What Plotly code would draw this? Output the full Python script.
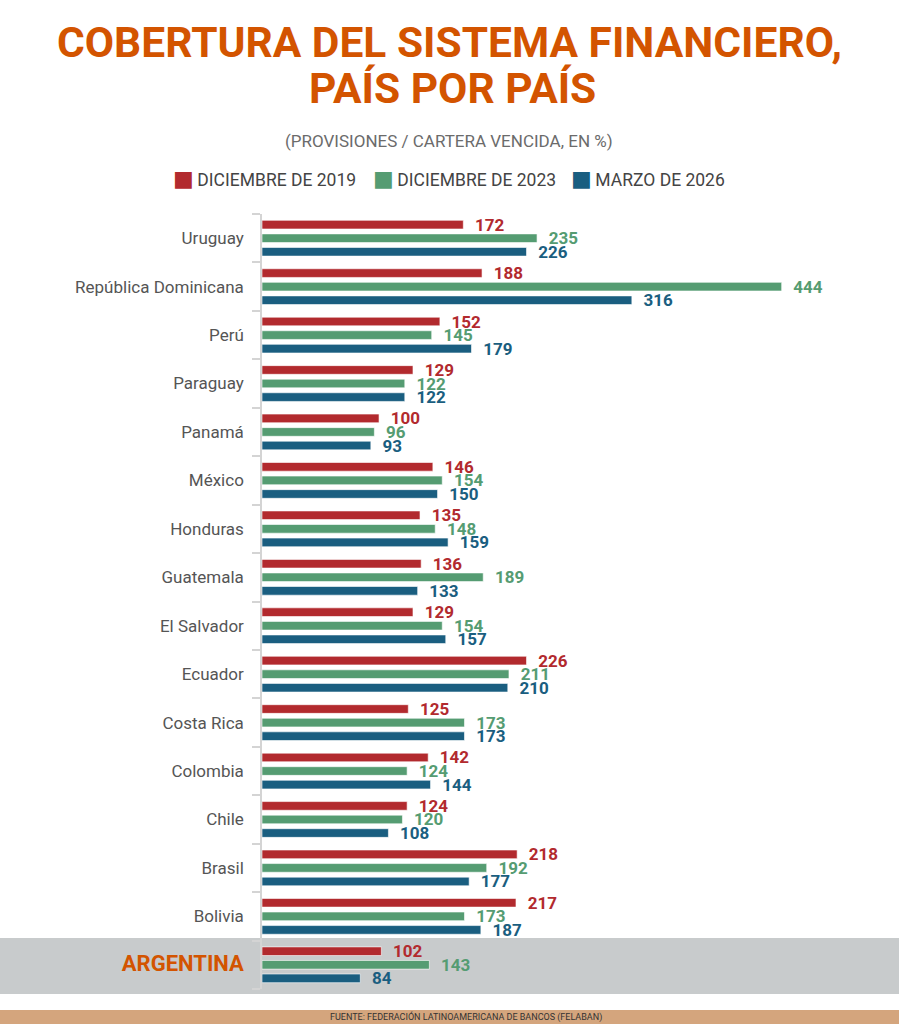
import plotly.graph_objects as go

# datos (provisiones / cartera vencida, en %)
countries = ["Uruguay", "República Dominicana", "Perú", "Paraguay", "Panamá", "México",
             "Honduras", "Guatemala", "El Salvador", "Ecuador", "Costa Rica", "Colombia",
             "Chile", "Brasil", "Bolivia", "ARGENTINA"]
dic_2019 = [172, 188, 152, 129, 100, 146, 135, 136, 129, 226, 125, 142, 124, 218, 217, 102]
dic_2023 = [235, 444, 145, 122, 96, 154, 148, 189, 154, 211, 173, 124, 120, 192, 173, 143]
mar_2026 = [226, 316, 179, 122, 93, 150, 159, 133, 157, 210, 173, 144, 108, 177, 187, 84]
series_names = ["DICIEMBRE DE 2019", "DICIEMBRE DE 2023", "MARZO DE 2026"]

RED = "#B22A2E"
GREEN = "#559C72"
BLUE = "#1A5E80"
ORANGE = "#D35400"

W, H = 899, 1024
ML, MR, MT, MB = 262, 19, 214, 35

# pixel -> paper helpers (solo para decoracion)
def px(x):
    return (x - ML) / (W - ML - MR)

def py(y):
    return (H - MB - y) / (H - MT - MB)

fig = go.Figure()
for name, vals, col in zip(series_names, [dic_2019, dic_2023, mar_2026], [RED, GREEN, BLUE]):
    fig.add_trace(go.Bar(
        y=countries, x=vals, orientation="h", name=name,
        marker=dict(color=col, line=dict(color="rgba(255,255,255,0.6)", width=1)),
        text=vals, texttemplate="\u2002%{x}", textposition="outside",
        constraintext="none", cliponaxis=False,
        textfont=dict(family="Roboto", size=17, color=col, weight="bold"),
        showlegend=False,
    ))

ticktext = [c if c != "ARGENTINA" else
            "<b><span style='color:%s;font-size:22px'>ARGENTINA</span></b>" % ORANGE
            for c in countries]

fig.update_layout(
    width=W, height=H,
    margin=dict(l=ML, r=MR, t=MT, b=MB),
    paper_bgcolor="white", plot_bgcolor="rgba(0,0,0,0)",
    barmode="group", bargap=0.16, bargroupgap=0.36,
    font=dict(family="Roboto", color="#555555"),
    xaxis=dict(range=[0, 528], visible=False),
    yaxis=dict(
        type="category", categoryorder="array", categoryarray=countries,
        range=[15.5, -0.5], tickvals=countries, ticktext=ticktext,
        showline=True, linecolor="#d4d4d4", linewidth=1.5,
        ticks="outside", tickson="boundaries", ticklen=8, tickcolor="#d4d4d4", tickwidth=1.5,
        ticklabelstandoff=13, showgrid=False,
        tickfont=dict(family="Roboto", size=17, color="#555555"),
    ),
)

# franja gris de Argentina y pie de fuente
fig.add_shape(type="rect", xref="paper", yref="paper", x0=px(0), x1=px(W),
              y0=py(994), y1=py(938), fillcolor="#C8CBCC", line_width=0, layer="below")
fig.add_shape(type="rect", xref="paper", yref="paper", x0=px(0), x1=px(W),
              y0=py(H), y1=py(1010), fillcolor="#D4A57D", line_width=0, layer="below")

annots = [
    dict(text="COBERTURA DEL SISTEMA FINANCIERO,", x=px(449), y=py(42),
         font=dict(family="Roboto", size=42.5, color=ORANGE, weight="bold")),
    dict(text="PAÍS POR PAÍS", x=px(452), y=py(89),
         font=dict(family="Roboto", size=42.5, color=ORANGE, weight="bold")),
    dict(text="(PROVISIONES / CARTERA VENCIDA, EN %)", x=px(449), y=py(141),
         font=dict(family="Roboto", size=17, color="#6b6b6b")),
    dict(text="FUENTE: FEDERACIÓN LATINOAMERICANA DE BANCOS (FELABAN)", x=px(466), y=py(1017),
         font=dict(family="Roboto", size=9, color="#333333")),
]
for a in annots:
    fig.add_annotation(xref="paper", yref="paper", showarrow=False,
                       xanchor="center", yanchor="middle", **a)

# leyenda manual
for name, col, x0 in zip(series_names, [RED, GREEN, BLUE], [171, 371, 569]):
    fig.add_annotation(
        xref="paper", yref="paper", x=px(x0), y=py(178), xanchor="left", yanchor="middle",
        showarrow=False,
        text="<span style='color:%s;font-size:22px;font-family:DejaVu Sans'>■</span>\u2009%s" % (col, name),
        font=dict(family="Roboto", size=17.5, color="#444444"),
    )

fig.write_html("out.html", config={"displayModeBar": False},
               post_script="document.body.style.margin='0';")
